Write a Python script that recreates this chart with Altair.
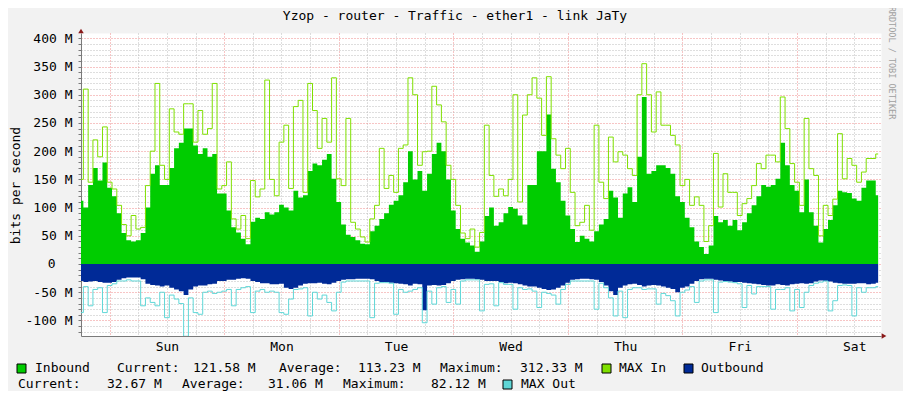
import json
import altair as alt
import pandas as pd

# ---------------- text content ----------------
TITLE = "Yzop - router - Traffic - ether1 - link JaTy"
Y_TITLE = "bits per second"
WATERMARK = "RRDTOOL / TOBI OETIKER"
DAY_NAMES = ["Sat", "Sun", "Mon", "Tue", "Wed", "Thu", "Fri", "Sat"]
START_HOUR = 18  # first sample: Saturday 18:00 (hours counted from Saturday 00:00)

# ---------------- series (M bits/s, hourly samples) ----------------
inbound = [
    112, 100, 140, 170, 148, 180, 135, 120, 90, 55,
    42, 40, 42, 55, 100, 160, 175, 140, 140, 170,
    205, 215, 240, 240, 210, 195, 205, 190, 195, 125,
    125, 95, 65, 56, 45, 35, 75, 82, 80, 92,
    88, 92, 105,
    100, 95, 130, 118, 122, 165, 178, 175, 185, 195,
    151, 110, 70, 52, 48, 42, 36, 35, 58, 68,
    80, 90, 105, 112, 122, 145, 200, 150, 165, 130,
    160, 195, 215, 200, 150, 95, 62, 45, 38, 33,
    22, 40, 85,
    100, 68, 74, 90, 101, 98, 86, 70, 140, 140,
    200, 200, 265, 169, 145, 112, 86, 62, 39, 50,
    45, 40, 58, 70, 80, 130, 118, 82, 125, 136,
    110, 190, 296, 160, 165, 175, 175, 170, 160, 120,
    110, 82,
    65, 40, 30, 18, 33, 85, 74, 78, 68, 78,
    60, 74, 90, 104, 120, 140, 137, 140, 151, 215,
    175, 140, 130, 92, 150, 92, 68, 38, 62, 78,
    104, 130, 127, 126, 116, 112, 135, 148, 148, 122,
]
max_in = [
    150, 310, 145, 220, 190, 243, 145, 133, 104, 70,
    50, 86, 62, 65, 139, 200, 320, 175, 150, 275,
    234, 230, 284, 284, 216, 272, 230, 240, 320, 133,
    139, 181, 80, 62, 86, 45, 148, 119, 133, 326,
    150, 121, 216,
    246, 134, 279, 290, 127, 320, 272, 205, 258, 216,
    330, 151, 139, 258, 74, 62, 48, 39, 80, 104,
    205, 134, 157, 127, 205, 211, 330, 300, 175, 199,
    200, 315, 282, 252, 175, 150, 104, 55, 45, 62,
    30, 56, 246,
    157, 120, 133, 121, 150, 300, 110, 264, 300, 330,
    294, 228, 332, 222, 193, 169, 205, 127, 68, 74,
    104, 60, 246, 145, 116, 225, 181, 199, 193, 169,
    157, 300, 355, 300, 234, 305, 246, 246, 228, 211,
    139, 150,
    104, 119, 104, 40, 68, 196, 101, 160, 127, 127,
    86, 107, 116, 139, 178, 169, 193, 193, 181, 296,
    240, 178, 145, 104, 258, 169, 157, 50, 104, 86,
    115, 231, 151, 187, 175, 145, 163, 187, 187, 195,
]
outbound = [
    -30, -32, -31, -30, -32, -33, -33, -32, -28, -25,
    -24, -24, -24, -27, -35, -37, -38, -40, -38, -42,
    -45, -48, -55, -45, -40, -38, -38, -36, -35, -30,
    -30, -28, -28, -26, -25, -26, -30, -32, -34, -34,
    -36, -36, -35,
    -42, -44, -42, -38, -35, -34, -34, -33, -35, -36,
    -33, -30, -28, -27, -27, -26, -26, -26, -27, -30,
    -32, -32, -33, -34, -35, -36, -38, -35, -36, -82,
    -38, -37, -38, -37, -34, -30, -28, -27, -26, -26,
    -27, -28, -30,
    -30, -30, -32, -34, -33, -34, -36, -38, -40, -40,
    -42, -44, -46, -45, -42, -38, -33, -28, -27, -26,
    -26, -27, -28, -32, -38, -48, -55, -42, -38, -36,
    -35, -37, -40, -38, -37, -38, -40, -42, -44, -50,
    -42, -40,
    -35, -30, -27, -26, -26, -28, -29, -30, -31, -32,
    -32, -33, -34, -35, -36, -37, -38, -38, -36, -37,
    -38, -36, -35, -34, -35, -34, -31, -29, -30, -31,
    -33, -34, -35, -35, -35, -34, -34, -36, -35, -33,
]
max_out = [
    -86, -40, -74, -45, -42, -86, -38, -35, -30, -30,
    -28, -30, -30, -74, -60, -68, -74, -50, -95, -55,
    -62, -70, -128, -60, -86, -89, -50, -48, -52, -50,
    -48, -45, -74, -45, -42, -40, -86, -48, -45, -50,
    -48, -50, -86,
    -89, -62, -45, -44, -42, -92, -50, -62, -55, -68,
    -83, -50, -32, -30, -30, -30, -30, -30, -95, -34,
    -33, -33, -34, -89, -45, -50, -48, -45, -42, -104,
    -48, -71, -42, -40, -68, -45, -71, -30, -28, -28,
    -28, -83, -36,
    -35, -74, -33, -36, -36, -80, -42, -45, -44, -48,
    -77, -50, -52, -55, -71, -45, -36, -30, -30, -30,
    -30, -30, -80, -34, -42, -60, -92, -48, -95, -45,
    -42, -42, -45, -44, -44, -71, -52, -56, -65, -92,
    -50, -46,
    -40, -68, -30, -28, -28, -86, -32, -31, -32, -33,
    -35, -77, -38, -53, -40, -40, -40, -80, -45, -45,
    -42, -83, -45, -77, -50, -38, -34, -32, -30, -83,
    -65, -38, -37, -38, -92, -42, -50, -42, -42, -40,
]

# ---------------- legend content ----------------
SERIES = ["Inbound", "MAX In", "Outbound", "MAX Out"]
STAT_LABELS = ["Current:", "Average:", "Maximum:"]
inbound_stats = [121.58, 113.23, 312.33]
outbound_stats = [32.67, 31.06, 82.12]
ZERO_LABEL = "0"

# ---------------- styles ----------------
COLORS = {"Inbound": "#00CC00", "MAX In": "#7FE000", "Outbound": "#002A97", "MAX Out": "#5FD7D7"}
FONT = "DejaVu Sans Mono"
GRID_GRAY = "#BDBDBD"
GRID_RED = "#EE8A8A"
AXIS_COLOR = "#7A7A7A"
ARROW_COLOR = "#8B1A1A"
BACK = "#F2F2F2"

# ---------------- table ----------------
hours = [START_HOUR + i for i in range(len(inbound))]
df = pd.DataFrame({"h": hours, "inbound": inbound, "max_in": max_in,
                   "outbound": outbound, "max_out": max_out})

xs = alt.Scale(domain=[18, 185.6], nice=False, zero=False)
ys = alt.Scale(domain=[-127.5, 409.4], nice=False, zero=False)

day_list = json.dumps(DAY_NAMES)
x_axis = alt.Axis(
    values=list(range(24, 186, 6)),
    labelExpr=f"datum.value % 24 === 12 ? {day_list}[floor(datum.value / 24)] : ''",
    title=None, grid=True,
    gridColor=alt.condition("datum.value % 24 === 0", alt.value(GRID_RED), alt.value(GRID_GRAY)),
    gridDash=[1, 2], ticks=False, domainColor=AXIS_COLOR,
    labelFont=FONT, labelFontSize=13, labelColor="#000", labelPadding=4,
    labelOverlap=False, labelFlush=False, labelBaseline="top",
)
y_axis = alt.Axis(
    values=list(range(-120, 401, 10)),
    labelExpr="(datum.value % 50 === 0 && datum.value !== 0) ? datum.value + ' M' : ''",
    grid=True,
    gridColor=alt.condition("datum.value % 50 === 0", alt.value(GRID_RED), alt.value(GRID_GRAY)),
    gridDash=[1, 2], tickSize=3, tickColor=AXIS_COLOR, domainColor=AXIS_COLOR,
    labelFont=FONT, labelFontSize=13, labelColor="#000", labelPadding=6,
    labelOverlap=False, labelFlush=False,
    title=Y_TITLE, titleFont=FONT, titleFontSize=13, titleFontWeight="normal",
    titleColor="#000", titleAngle=270, titleX=-66, titleY=152,
    titleAlign="center", titleBaseline="middle",
)

X_ENC = alt.X("h:Q", scale=xs, axis=x_axis)
base = alt.Chart(df)
area_in = base.mark_area(color=COLORS["Inbound"], interpolate="step", clip=True).encode(
    x=X_ENC, y=alt.Y("inbound:Q", scale=ys, axis=y_axis), y2=alt.datum(0),
)
line_in = base.mark_line(color=COLORS["MAX In"], strokeWidth=1, interpolate="step", clip=True).encode(
    x=X_ENC, y=alt.Y("max_in:Q", scale=ys, axis=y_axis),
)
area_out = base.mark_area(color=COLORS["Outbound"], interpolate="step", clip=True).encode(
    x=X_ENC, y=alt.Y("outbound:Q", scale=ys, axis=y_axis), y2=alt.datum(0),
)
line_out = base.mark_line(color=COLORS["MAX Out"], strokeWidth=1, interpolate="step", clip=True).encode(
    x=X_ENC, y=alt.Y("max_out:Q", scale=ys, axis=y_axis),
)

# the "0" tick label sits under the digits of the other labels, as rrdtool does
zero_label = alt.Chart(pd.DataFrame({"v": [0], "txt": [ZERO_LABEL]})).mark_text(
    align="right", baseline="middle", font=FONT, fontSize=13, color="#000"
).encode(x=alt.value(-25.5), y=alt.Y("v:Q", scale=ys, axis=y_axis), text="txt:N")

# ---------------- legend / annotations (pixel layout relative to plot origin) ----------------
fmt = lambda v: f"{v:.2f} M"
leg_texts = ([SERIES[0], STAT_LABELS[0], fmt(inbound_stats[0]), STAT_LABELS[1], fmt(inbound_stats[1]),
              STAT_LABELS[2], fmt(inbound_stats[2]), SERIES[1], SERIES[2]] +
             [STAT_LABELS[0], fmt(outbound_stats[0]), STAT_LABELS[1], fmt(outbound_stats[1]),
              STAT_LABELS[2], fmt(outbound_stats[2]), SERIES[3]])
LEG_X = [-46, 36, 112, 198, 277, 359, 439, 538, 620,
         -63, 26, 101, 187, 262, 350, 440]
LEG_Y = [335] * 9 + [351] * 7
legend_df = pd.DataFrame({"txt": leg_texts, "px": LEG_X, "py": LEG_Y})

SW_X0 = [-64, 521, 603, 422]
SW_Y0 = [331, 331, 331, 347]
swatch_df = pd.DataFrame({
    "series": SERIES,
    "x0": SW_X0, "x1": [v + 9 for v in SW_X0],
    "y0": SW_Y0, "y1": [v + 9 for v in SW_Y0],
    "fill": [COLORS[s] for s in SERIES],
})

px_x = lambda f: alt.X(f, scale=None, axis=None)
px_y = lambda f: alt.Y(f, scale=None, axis=None)

legend_text = alt.Chart(legend_df).mark_text(
    align="left", baseline="middle", font=FONT, fontSize=13, color="#000"
).encode(x=px_x("px:Q"), y=px_y("py:Q"), text="txt:N")

swatches = alt.Chart(swatch_df).mark_rect(stroke="#000", strokeWidth=1).encode(
    x=px_x("x0:Q"), x2="x1:Q", y=px_y("y0:Q"), y2="y1:Q",
    fill=alt.Fill("fill:N", scale=None, legend=None),
)

title_t = alt.Chart(pd.DataFrame({"txt": [TITLE], "px": [374], "py": [-17]})).mark_text(
    align="center", baseline="middle", font=FONT, fontSize=13, color="#000"
).encode(x=px_x("px:Q"), y=px_y("py:Q"), text="txt:N")

mark_t = alt.Chart(pd.DataFrame({"txt": [WATERMARK], "px": [811], "py": [30]})).mark_text(
    align="center", baseline="middle", font=FONT, fontSize=8.5, color="#A0A0A0", angle=90
).encode(x=px_x("px:Q"), y=px_y("py:Q"), text="txt:N")

arrows_df = pd.DataFrame({"px": [0, 803], "py": [-2, 303], "shape": ["triangle-up", "triangle-right"]})
arrows = alt.Chart(arrows_df).mark_point(filled=True, size=30, color=ARROW_COLOR, opacity=1).encode(
    x=px_x("px:Q"), y=px_y("py:Q"),
    shape=alt.Shape("shape:N", scale=None, legend=None),
)

chart = alt.layer(
    area_in, line_in, area_out, line_out, zero_label,
    swatches, legend_text, title_t, mark_t, arrows
).properties(
    width=800, height=303,
    padding={"left": 73, "top": 25, "right": 22, "bottom": 55},
    autosize=alt.AutoSizeParams(type="none"),
    background=BACK,
).configure_view(fill="white", stroke="transparent")

chart.save("out.html", embed_options={"renderer": "svg", "actions": False})
